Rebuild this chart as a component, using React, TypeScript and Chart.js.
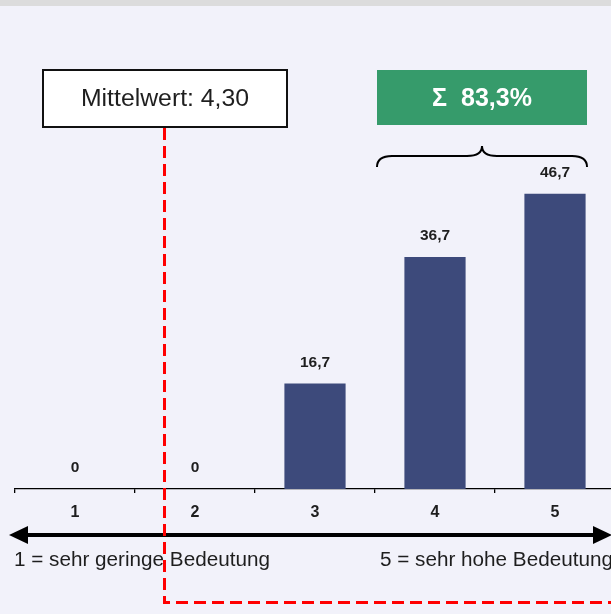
import React, { useEffect, useRef } from "react";
import { Chart, registerables } from "chart.js";

Chart.register(...registerables);

const categories = ["1", "2", "3", "4", "5"];
const shares = [0, 0, 16.7, 36.7, 46.7];
const meanLabel = "Mittelwert: 4,30";
const sumLabel = "Σ  83,3%";
const leftScaleText = "1 = sehr geringe Bedeutung";
const rightScaleText = "5 = sehr hohe Bedeutung";

const FONT = '"Liberation Sans", Arial, Helvetica, sans-serif';
const BAR_COLOR = "#3d4a7b";
const GREEN = "#369b6b";
const BG = "#f2f2fa";
const TEXT = "#1e1e1e";

const fmt = (v: number) => (v === 0 ? "0" : v.toFixed(1).replace(".", ","));

const decorPlugin = {
  id: "decor",
  beforeDraw(chart: any) {
    const { ctx, width, height } = chart;
    ctx.save();
    ctx.fillStyle = BG;
    ctx.fillRect(0, 0, width, height);
    ctx.fillStyle = "#dcdcdc";
    ctx.fillRect(0, 0, width, 6);
    ctx.restore();
  },
  afterDraw(chart: any) {
    const { ctx } = chart;
    const meta = chart.getDatasetMeta(0);
    ctx.save();

    // value labels
    ctx.font = `bold 15.5px ${FONT}`;
    ctx.fillStyle = TEXT;
    ctx.textAlign = "center";
    ctx.textBaseline = "middle";
    meta.data.forEach((el: any, i: number) => {
      ctx.fillText(fmt(shares[i]), el.x, el.y - 21);
    });

    // double arrow
    const ay = 535;
    ctx.strokeStyle = "#000";
    ctx.fillStyle = "#000";
    ctx.lineWidth = 4;
    ctx.beginPath();
    ctx.moveTo(24, ay);
    ctx.lineTo(598, ay);
    ctx.stroke();
    ctx.beginPath();
    ctx.moveTo(9, ay);
    ctx.lineTo(28, ay - 9);
    ctx.lineTo(28, ay + 9);
    ctx.closePath();
    ctx.fill();
    ctx.beginPath();
    ctx.moveTo(612, ay);
    ctx.lineTo(593, ay - 9);
    ctx.lineTo(593, ay + 9);
    ctx.closePath();
    ctx.fill();

    // scale explanation texts
    ctx.font = `20.7px ${FONT}`;
    ctx.fillStyle = TEXT;
    ctx.textAlign = "left";
    ctx.textBaseline = "middle";
    ctx.fillText(leftScaleText, 14, 560);
    ctx.fillText(rightScaleText, 380, 560);

    // mean box
    ctx.fillStyle = "#fff";
    ctx.fillRect(43, 70, 244, 57);
    ctx.strokeStyle = "#111";
    ctx.lineWidth = 2;
    ctx.strokeRect(43, 70, 244, 57);
    ctx.fillStyle = TEXT;
    ctx.font = `24.8px ${FONT}`;
    ctx.textAlign = "center";
    ctx.fillText(meanLabel, 165, 99);

    // sum box
    ctx.fillStyle = GREEN;
    ctx.fillRect(377, 70, 210, 55);
    ctx.fillStyle = "#fff";
    ctx.font = `bold 25px ${FONT}`;
    ctx.fillText(sumLabel, 482, 99);

    // brace
    ctx.strokeStyle = "#000";
    ctx.lineWidth = 2;
    ctx.beginPath();
    ctx.moveTo(377, 167);
    ctx.quadraticCurveTo(377, 156, 392, 156);
    ctx.lineTo(467, 156);
    ctx.quadraticCurveTo(482, 156, 482, 146);
    ctx.quadraticCurveTo(482, 156, 497, 156);
    ctx.lineTo(572, 156);
    ctx.quadraticCurveTo(587, 156, 587, 167);
    ctx.stroke();

    // red dashed mean line
    ctx.strokeStyle = "#ff0000";
    ctx.lineWidth = 3;
    ctx.setLineDash([12, 6]);
    ctx.beginPath();
    ctx.moveTo(164.5, 128);
    ctx.lineTo(164.5, 602.5);
    ctx.lineTo(640, 602.5);
    ctx.stroke();
    ctx.restore();
  },
};

export default function App() {
  const ref = useRef<HTMLCanvasElement | null>(null);

  useEffect(() => {
    if (!ref.current) return;
    const chart = new Chart(ref.current, {
      type: "bar",
      data: {
        labels: categories,
        datasets: [
          {
            data: shares,
            backgroundColor: BAR_COLOR,
            borderWidth: 0,
            barPercentage: 0.51,
            categoryPercentage: 1,
          },
        ],
      },
      options: {
        responsive: false,
        animation: false,
        devicePixelRatio: 1,
        layout: { padding: { top: 15, left: 15, right: 15, bottom: 0 } },
        plugins: {
          legend: { display: false },
          tooltip: { enabled: false },
        },
        scales: {
          x: {
            position: "bottom",
            grid: {
              display: true,
              drawOnChartArea: false,
              drawTicks: true,
              tickLength: 4,
              color: "#000",
              lineWidth: 1.3,
              offset: true,
            },
            border: { display: true, color: "#000", width: 1.3 },
            ticks: {
              color: TEXT,
              padding: 10,
              font: { family: FONT, size: 16, weight: "bold" },
            },
            afterFit: (scale: any) => {
              scale.height = 125;
            },
          },
          y: {
            display: false,
            min: 0,
            max: 75,
          },
        },
      },
      plugins: [decorPlugin],
    });
    return () => chart.destroy();
  }, []);

  return (
    <div
      style={{
        position: "absolute",
        left: 0,
        top: 0,
        width: 611,
        height: 614,
        overflow: "hidden",
        background: BG,
      }}
    >
      <canvas
        ref={ref}
        width={630}
        height={614}
        style={{ position: "absolute", left: 0, top: 0, width: 630, height: 614 }}
      />
    </div>
  );
}
